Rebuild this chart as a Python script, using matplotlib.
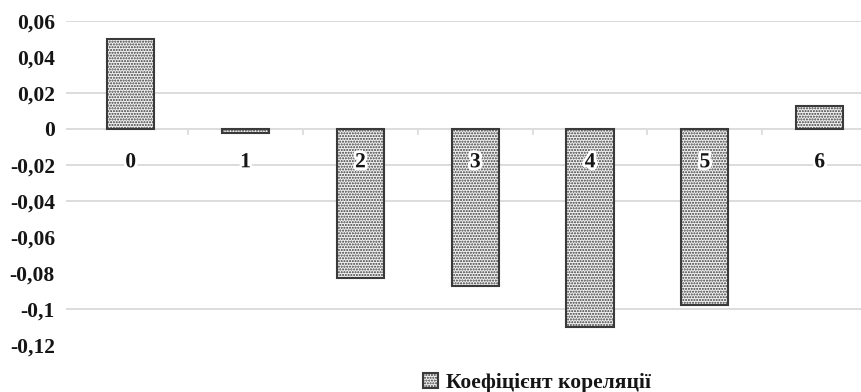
import matplotlib
matplotlib.use("Agg")
import matplotlib.pyplot as plt
import matplotlib.patheffects as pe
from matplotlib.ticker import FuncFormatter, MultipleLocator

plt.rcParams.update({
    "font.family": "Liberation Serif",
    "font.weight": "bold",
    "hatch.color": "#7a7a7a",
    "hatch.linewidth": 1.0,
})

# ── Data ──────────────────────────────────────────────────────────────────────
categories = ["0", "1", "2", "3", "4", "5", "6"]
corr = [0.050, -0.002, -0.083, -0.087, -0.110, -0.098, 0.013]
series_name = "Коефіцієнт кореляції"
grid_levels = [0.06, 0.02, 0.0, -0.02, -0.04, -0.10]

GRID = "#dcdcdc"
EDGE = "#3a3a3a"
TXT = "#151515"

fig = plt.figure(figsize=(8.61, 3.92), dpi=100)
ax = fig.add_axes([66 / 861, 1 - 345 / 392, 795 / 861, 324 / 392])

x = range(len(categories))
bars = ax.bar(x, corr, width=0.41, facecolor="#f2f2f2", edgecolor=EDGE,
              linewidth=1.5, hatch="......", label=series_name, zorder=3)

ax.set_xlim(-0.564, 6.36)
ax.set_ylim(-0.12, 0.06)
ax.yaxis.set_major_locator(MultipleLocator(0.02))


def comma_fmt(v, _):
    s = f"{v:.2f}".rstrip("0").rstrip(".")
    if s in ("-0", "0"):
        return "0"
    return s.replace(".", ",")


ax.yaxis.set_major_formatter(FuncFormatter(comma_fmt))
ax.tick_params(axis="y", length=0, pad=8, labelsize=15.5, labelcolor=TXT)
ax.set_xticks([])
for s in ax.spines.values():
    s.set_visible(False)

for g in grid_levels:
    ax.axhline(g, color=GRID, linewidth=1.4, zorder=1)

# small separators between categories under the zero line
for b in range(1, len(categories)):
    ax.plot([b - 0.5, b - 0.5], [0, -0.003], color=GRID, lw=1.3, zorder=1)

# category labels next to the axis
for i, c in enumerate(categories):
    ax.text(i, -0.0185, c, ha="center", va="center", fontsize=15.5,
            color=TXT, zorder=5,
            path_effects=[pe.withStroke(linewidth=4, foreground="white")])

fig.legend(handles=[bars], labels=[series_name], loc="center",
           bbox_to_anchor=(537 / 861, 1 - 383 / 392), frameon=False,
           fontsize=15.5, handlelength=0.7, handleheight=0.7, handletextpad=0.4,
           labelcolor=TXT)

fig.savefig("out.png", dpi=100)
